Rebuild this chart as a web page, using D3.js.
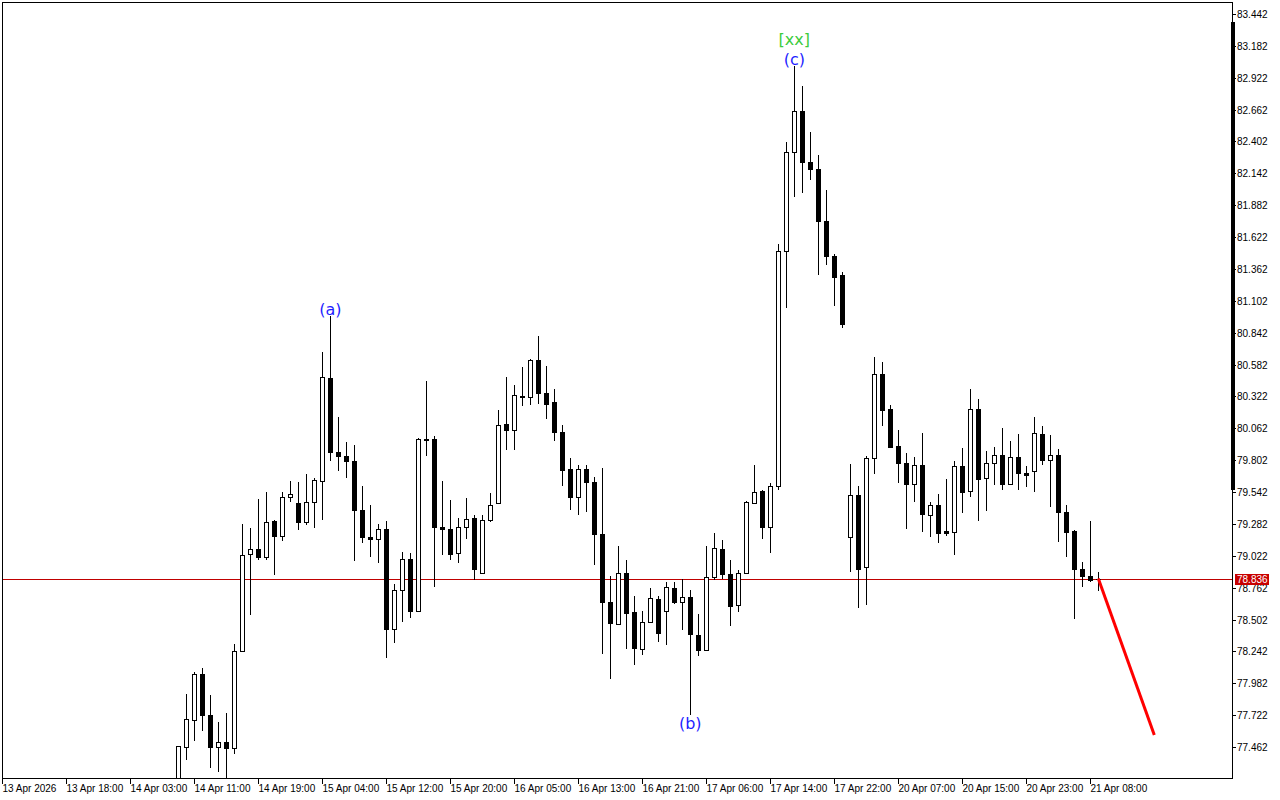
<!DOCTYPE html>
<html><head><meta charset="utf-8">
<script src="https://cdn.jsdelivr.net/npm/d3@7"></script>
<style>html,body{margin:0;padding:0;background:#fff;overflow:hidden}</style>
</head><body>
<svg id="c" width="1280" height="800"></svg>
<script>
// Hourly candles, bar index 0..115 (bar 114 = 21 Apr 08:00)
const opens = [77.20,77.463,77.680,78.061,77.724,77.463,77.504,77.455,78.246,79.037,
79.078,79.013,79.303,79.181,79.503,79.454,79.296,79.462,79.630,80.473,
79.869,79.836,79.796,79.399,79.176,79.160,79.241,78.426,78.744,78.997,
78.569,79.978,79.973,79.257,79.241,79.045,79.257,79.331,78.882,79.312,
79.454,80.098,80.050,80.327,80.319,80.620,80.351,80.275,80.033,79.726,
79.503,79.733,79.627,79.203,78.646,78.469,78.882,78.564,78.262,78.483,
78.673,78.572,78.763,78.646,78.689,78.379,78.254,78.850,79.081,78.877,
78.621,78.882,79.454,79.547,79.259,79.593,81.511,82.319,82.651,82.238,
82.178,81.756,81.469,81.309,79.177,79.515,78.927,79.816,80.501,80.217,
79.915,79.780,79.608,79.765,79.358,79.439,79.222,79.217,79.758,79.548,
80.220,79.657,79.780,79.845,79.609,79.829,79.698,79.715,80.016,79.801,
79.845,79.380,79.228,78.918,78.858,78.836];
const highs = [77.474,77.898,78.070,78.104,77.890,77.669,77.740,78.306,79.285,79.252,
79.489,79.540,79.317,79.544,79.635,79.627,79.693,79.660,80.688,80.976,
80.158,79.954,79.927,79.595,79.440,79.285,79.309,78.795,79.056,79.046,
79.980,80.451,79.997,79.635,79.480,79.331,79.497,79.356,79.356,79.537,
80.215,80.484,80.419,80.565,80.630,80.818,80.574,80.384,80.090,79.821,
79.766,79.766,79.666,79.739,78.860,79.105,78.991,78.697,78.575,78.757,
78.692,78.812,78.812,78.834,78.741,78.550,79.105,79.211,79.154,78.991,
78.909,79.467,79.766,79.560,79.614,81.568,82.401,83.016,82.856,82.483,
82.293,82.009,81.484,81.339,79.771,79.590,79.840,80.640,80.606,80.254,
80.052,79.861,79.831,80.021,79.458,79.529,79.650,79.799,79.902,80.386,
80.304,79.880,79.913,80.065,79.962,80.019,79.758,80.158,80.084,80.008,
79.897,79.440,79.236,78.975,79.309,78.887];
const lows = [77.10,77.354,77.509,77.590,77.292,77.256,77.200,77.408,78.240,78.537,
78.991,78.990,78.869,79.140,79.462,79.230,79.275,79.245,79.312,79.793,
79.711,79.657,78.977,79.127,79.010,78.961,78.189,78.311,78.479,78.512,
78.560,79.834,78.765,79.032,78.985,78.961,79.160,78.822,78.880,79.296,
79.450,79.883,79.883,80.242,80.251,80.259,80.136,79.959,79.589,79.393,
79.352,79.377,78.945,78.222,78.018,78.460,78.262,78.129,78.216,78.480,
78.316,78.298,78.632,78.414,77.727,78.202,78.250,78.822,78.836,78.447,
78.561,78.880,79.446,79.156,79.041,79.560,81.047,81.952,81.982,82.087,
81.312,81.394,81.061,80.880,78.891,78.598,78.619,79.689,80.082,79.901,
79.614,79.237,79.463,79.216,79.177,79.126,79.186,79.026,79.369,79.499,
79.303,79.385,79.597,79.556,79.605,79.556,79.581,79.540,79.760,79.418,
79.132,79.010,78.507,78.765,78.809,78.732];
const closes = [77.474,77.691,78.061,77.721,77.463,77.504,77.455,78.246,79.029,79.078,
79.013,79.299,79.181,79.503,79.527,79.296,79.462,79.641,80.481,79.866,
79.834,79.793,79.393,79.173,79.160,79.241,78.426,78.744,78.997,78.569,
79.976,79.965,79.254,79.238,79.034,79.257,79.323,78.912,79.315,79.437,
80.090,80.046,80.335,80.316,80.620,80.348,80.259,80.030,79.720,79.503,
79.733,79.625,79.201,78.643,78.475,78.882,78.556,78.267,78.483,78.679,
78.393,78.771,78.643,78.689,78.385,78.251,78.852,79.089,78.871,78.613,
78.882,79.462,79.544,79.259,79.593,81.511,82.319,82.651,82.235,82.178,
81.753,81.466,81.297,80.917,79.515,78.914,79.816,80.501,80.211,79.906,
79.780,79.608,79.759,79.364,79.439,79.207,79.204,79.758,79.540,80.220,
79.646,79.780,79.845,79.605,79.829,79.695,79.679,80.025,79.801,79.845,
79.380,79.214,78.912,78.855,78.825,78.836];

const timeLabels = ["13 Apr 2026","13 Apr 18:00","14 Apr 03:00","14 Apr 11:00","14 Apr 19:00",
"15 Apr 04:00","15 Apr 12:00","15 Apr 20:00","16 Apr 05:00","16 Apr 13:00","16 Apr 21:00",
"17 Apr 06:00","17 Apr 14:00","17 Apr 22:00","20 Apr 07:00","20 Apr 15:00","20 Apr 23:00","21 Apr 08:00"];
const timeLabelBars = [-22,-14,-6,2,10,18,26,34,42,50,58,66,74,82,90,98,106,114];

const priceTicks = [83.442,83.182,82.922,82.662,82.402,82.142,81.882,81.622,81.362,81.102,
80.842,80.582,80.322,80.062,79.802,79.542,79.282,79.022,78.762,78.502,78.242,77.982,77.722,77.462];

const currentPrice = 78.836;
const projectionBars = [115,122];
const projectionPrices = [78.836,77.56];

const waveTexts = ["(a)","(b)","(c)","[xx]"];
const waveBars = [19,64,77,77];
const waveSide = ["high","low","high","high2"];
const waveColors = ["#1f1fff","#1f1fff","#1f1fff","#3ccc3c"];

// ---- drawing ----
const svg = d3.select("#c");
const L=2, R=1232, T=2, B=778;
const x = d3.scaleLinear().domain([-22,115]).range([2.3,1098.3]);
const y = d3.scaleLinear().domain([77.462,83.442]).range([747,14]);
const font = "'Liberation Sans', Arial, sans-serif";

svg.append("rect").attr("width",1280).attr("height",800).attr("fill","#fff");
svg.append("defs").append("clipPath").attr("id","plot")
  .append("rect").attr("x",L).attr("y",T).attr("width",R-L).attr("height",B-T);

const g = svg.append("g").attr("clip-path","url(#plot)");

// current price line
const cy = Math.round(y(currentPrice))+0.5;
g.append("line").attr("x1",L).attr("x2",R).attr("y1",cy).attr("y2",cy)
  .attr("stroke","#c00000").attr("stroke-width",1);

// candles
const bars = d3.range(opens.length);
const cg = g.append("g").attr("shape-rendering","crispEdges");
bars.forEach(i=>{
  const cx = Math.round(x(i));
  const o=opens[i], c=closes[i], h=highs[i], l=lows[i];
  cg.append("line").attr("x1",cx+0.5).attr("x2",cx+0.5)
    .attr("y1",Math.round(y(h))).attr("y2",Math.round(y(l)))
    .attr("stroke","#000").attr("stroke-width",1);
  const top = Math.round(y(Math.max(o,c))), bot = Math.round(y(Math.min(o,c)));
  if (bot-top < 1) {
    cg.append("line").attr("x1",cx-2).attr("x2",cx+3).attr("y1",top+0.5).attr("y2",top+0.5)
      .attr("stroke","#000").attr("stroke-width",1);
  } else {
    cg.append("rect").attr("x",cx-1.5).attr("y",top+0.5).attr("width",4).attr("height",bot-top)
      .attr("fill", c>=o ? "#fff" : "#000").attr("stroke","#000").attr("stroke-width",1);
  }
});

// projection arrow line
g.append("line")
  .attr("x1",x(projectionBars[0])).attr("y1",y(projectionPrices[0]))
  .attr("x2",x(projectionBars[1])).attr("y2",y(projectionPrices[1]))
  .attr("stroke","#ff0000").attr("stroke-width",3);

// wave labels
waveTexts.forEach((t,i)=>{
  const b = waveBars[i];
  let yy;
  if (waveSide[i]==="high") yy = y(highs[b]) - 1.5;
  else if (waveSide[i]==="high2") yy = y(highs[b]) - 21;
  else yy = y(lows[b]) + 14;
  g.append("text").attr("x",x(b)).attr("y",yy).attr("text-anchor","middle")
    .attr("font-family","'DejaVu Sans', sans-serif").attr("font-size",16)
    .attr("fill",waveColors[i]).text(t);
});

// frame
const fr = svg.append("g").attr("shape-rendering","crispEdges");
fr.append("rect").attr("x",L+0.5).attr("y",T+0.5).attr("width",R-L).attr("height",B-T)
  .attr("fill","none").attr("stroke","#000").attr("stroke-width",1);
// thick scale bar on right axis
fr.append("rect").attr("x",R-1).attr("y",22).attr("width",3.5).attr("height",468).attr("fill","#000");

// price axis
priceTicks.forEach(p=>{
  const yy = Math.round(y(p))+0.5;
  fr.append("line").attr("x1",R).attr("x2",R+4).attr("y1",yy).attr("y2",yy).attr("stroke","#000");
  svg.append("text").attr("x",R+5).attr("y",yy).attr("dy","0.35em")
    .attr("font-family",font).attr("font-size",10).attr("fill","#000").text(p.toFixed(3));
});

// current price tag
svg.append("rect").attr("x",R+3).attr("y",cy-5.5).attr("width",34).attr("height",11).attr("fill","#c80000");
svg.append("text").attr("x",R+5).attr("y",cy).attr("dy","0.36em")
  .attr("font-family",font).attr("font-size",10).attr("fill","#fff").text(currentPrice.toFixed(3));

// time axis
timeLabels.forEach((t,i)=>{
  const xx = Math.round(x(timeLabelBars[i]))+0.5;
  fr.append("line").attr("x1",xx).attr("x2",xx).attr("y1",B).attr("y2",B+6).attr("stroke","#000");
  svg.append("text").attr("x",xx).attr("y",792)
    .attr("font-family",font).attr("font-size",10).attr("fill","#000").text(t);
});
</script>
</body></html>
